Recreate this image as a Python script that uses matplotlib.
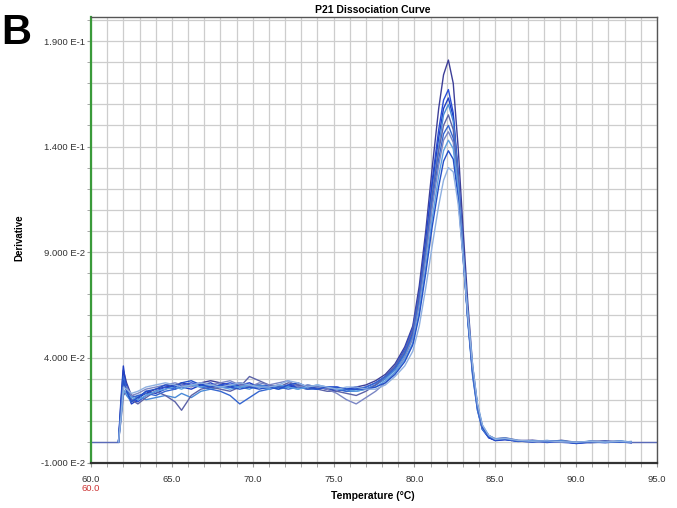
import numpy as np
import matplotlib
matplotlib.use("Agg")
import matplotlib.pyplot as plt

# Temperature grid (°C)
temps = [61.7, 61.85, 62.0, 62.2, 62.5, 62.9, 63.4, 64.0, 64.6, 65.2,
         65.6, 66.2, 66.8, 67.4, 68.0, 68.6, 69.2, 69.8, 70.4, 71.0,
         71.6, 72.2, 72.8, 73.4, 74.0, 74.6, 75.2, 75.8, 76.4, 77.0,
         77.6, 78.2, 78.8, 79.4, 79.9, 80.3, 80.7, 81.1, 81.5, 81.8,
         82.1, 82.4, 82.7, 83.0, 83.3, 83.6, 83.9, 84.2, 84.6, 85.0,
         85.6, 86.4, 87.3, 88.2, 89.1, 90.0, 90.9, 91.8, 92.7, 93.4]

# Derivative values in units of 1e-3
c1 = [0, 18, 34, 28, 22, 21, 23, 25, 26, 27, 28, 27, 28, 29, 28, 27, 28, 27, 27, 26,
      27, 26, 26, 25, 26, 25, 25, 25, 26, 27, 29, 32, 37, 45, 55, 74, 100, 130, 158, 174,
      181, 170, 140, 102, 66, 36, 17, 7, 2, 1, 1.5, 0.5, 0.8, 0.2, 0.6, -0.5, 0.3, 0.0, 0.4, -0.3]
c2 = [0, 14, 30, 27, 20, 19, 22, 24, 26, 25, 27, 28, 27, 26, 27, 28, 27, 26, 26, 27,
      26, 27, 26, 26, 25, 26, 26, 25, 25, 26, 28, 31, 36, 44, 54, 71, 96, 124, 148, 162,
      167, 156, 128, 93, 60, 33, 16, 6, 2, 0.8, 1.2, 0.2, 0.5, -0.3, 0.4, -0.8, 0.0, -0.4, 0.2, -0.2]
c3 = [0, 20, 36, 24, 18, 20, 24, 23, 25, 27, 26, 25, 27, 28, 26, 26, 27, 28, 26, 25,
      26, 26, 27, 26, 26, 25, 24, 25, 26, 25, 27, 30, 35, 42, 52, 70, 94, 121, 144, 158,
      163, 154, 127, 92, 58, 32, 15, 6, 2, 0.6, 1.0, 0.4, 0.0, 0.5, -0.2, -0.6, -0.2, 0.3, 0.0, -0.4]
c4 = [0, 12, 25, 22, 19, 22, 20, 21, 22, 21, 23, 21, 24, 25, 26, 27, 26, 25, 27, 26,
      25, 26, 25, 27, 26, 26, 25, 24, 24, 25, 27, 30, 34, 41, 50, 67, 91, 118, 140, 155,
      160, 152, 126, 91, 57, 31, 15, 6, 2.5, 1.2, 1.6, 0.6, 0.2, 0.7, 0.0, -0.3, 0.4, -0.2, 0.3, 0.0]
c5 = [0, 10, 22, 24, 20, 18, 21, 24, 22, 19, 15, 22, 25, 26, 25, 24, 26, 31, 29, 27,
      26, 28, 27, 26, 25, 24, 24, 23, 22, 24, 27, 31, 36, 43, 53, 70, 92, 117, 138, 150,
      155, 148, 124, 92, 60, 34, 17, 7, 3, 1.5, 2.0, 0.8, 0.5, 0.0, 0.8, -0.2, 0.2, 0.5, -0.2, 0.2]
c6 = [0, 16, 31, 25, 21, 22, 23, 22, 24, 25, 26, 27, 26, 25, 24, 22, 18, 21, 24, 25,
      26, 25, 26, 25, 25, 26, 25, 24, 25, 26, 28, 31, 35, 42, 51, 68, 90, 114, 134, 146,
      150, 144, 121, 89, 58, 33, 16, 7, 2.5, 1.0, 1.4, 0.3, 0.6, 0.1, 0.3, -0.4, -0.1, 0.2, 0.1, -0.1]
c7 = [0, 13, 27, 26, 22, 23, 25, 26, 27, 28, 27, 26, 28, 27, 28, 29, 27, 26, 28, 27,
      28, 29, 26, 27, 26, 25, 23, 20, 18, 21, 24, 28, 33, 40, 49, 65, 87, 111, 131, 143,
      147, 142, 121, 90, 59, 34, 17, 7, 3, 1.2, 1.5, 0.5, 0.2, 0.6, -0.2, 0.1, -0.5, 0.0, 0.3, -0.2]
c8 = [0, 11, 24, 23, 21, 20, 22, 24, 25, 26, 25, 27, 26, 27, 26, 25, 26, 27, 26, 25,
      27, 26, 25, 26, 27, 26, 25, 25, 24, 25, 26, 29, 33, 39, 47, 62, 83, 106, 126, 138,
      143, 139, 120, 91, 61, 36, 18, 8, 3, 1.4, 1.8, 0.6, 0.4, 0.2, 0.5, -0.3, 0.2, -0.1, 0.4, 0.0]
c9 = [0, 15, 29, 24, 19, 21, 24, 25, 27, 26, 28, 29, 27, 26, 27, 26, 25, 26, 25, 26,
      25, 27, 28, 26, 25, 26, 26, 25, 25, 25, 26, 28, 32, 38, 46, 60, 80, 102, 121, 133,
      138, 134, 116, 88, 59, 34, 17, 7, 2.5, 1.0, 1.3, 0.4, 0.0, 0.4, 0.2, -0.5, 0.1, 0.2, -0.1, -0.3]
c10 = [0, 12, 26, 25, 23, 24, 26, 27, 28, 27, 26, 27, 28, 27, 26, 27, 28, 27, 26, 26,
       27, 29, 28, 26, 27, 26, 25, 26, 26, 25, 25, 27, 31, 36, 43, 55, 73, 93, 112, 124,
       130, 128, 113, 88, 60, 36, 18, 8, 3, 1.2, 1.6, 0.7, 0.3, 0.5, 0.1, -0.2, 0.3, 0.0, 0.2, -0.1]

curves = [c1, c2, c3, c4, c5, c6, c7, c8, c9, c10]
colors = ["#3d3f98", "#2a4fd6", "#1f3fc4", "#4a8ad8", "#5c63a8",
          "#3566d0", "#7a86c4", "#5fa0e0", "#2450c8", "#8fb0e0"]

# flat zero segments before and after the measured range
baseline_t = [60.0, 61.7, np.nan, 93.4, 95.0]
baseline_v = [0.0, 0.0, np.nan, 0.0, 0.0]

y_ticks = [0.19, 0.14, 0.09, 0.04, -0.01]
y_ticklabels = ["1.900 E-1", "1.400 E-1", "9.000 E-2", "4.000 E-2", "-1.000 E-2"]
x_ticks = [60, 65, 70, 75, 80, 85, 90, 95]
x_ticklabels = ["60.0", "65.0", "70.0", "75.0", "80.0", "85.0", "90.0", "95.0"]

plt.rcParams['font.family'] = ['Liberation Sans', 'DejaVu Sans']

fig = plt.figure(figsize=(6.77, 5.08), dpi=100)
ax = fig.add_axes([91/677, 1-463/508, (657-91)/677, (463-17)/508])

ax.set_xlim(60, 95)
ax.set_ylim(-0.01, 0.2014)

# grid
ax.set_xticks(np.arange(60, 96, 1), minor=True)
ax.set_yticks(np.arange(-0.01, 0.201, 0.01), minor=True)
ax.grid(which='minor', color='#cdcdcd', lw=0.9)
ax.grid(which='major', color='#cdcdcd', lw=0.9)
ax.set_axisbelow(True)

ax.plot(baseline_t, baseline_v, color='#5a6ab8', lw=1.0, zorder=2)
t = np.array(temps)
for c, col in zip(curves, colors):
    ax.plot(t, np.array(c) / 1000.0, color=col, lw=1.0, zorder=3)

ax.set_xticks(x_ticks)
ax.set_xticklabels(x_ticklabels)
ax.set_yticks(y_ticks)
ax.set_yticklabels(y_ticklabels)
ax.tick_params(which='both', direction='out', length=3, color='#999999',
               labelsize=6.8, labelcolor='#333333')
ax.tick_params(axis='y', which='major', pad=1.5)
ax.tick_params(axis='x', which='major', pad=6)

for s in ['top', 'right']:
    ax.spines[s].set_color('#555555')
    ax.spines[s].set_linewidth(1.0)
ax.spines['left'].set_color('#3a9a3a')
ax.spines['left'].set_linewidth(1.6)
ax.spines['bottom'].set_color('#333333')
ax.spines['bottom'].set_linewidth(1.6)

ax.text(60, -0.0222, "60.0", color='#cc3333', fontsize=6.8, ha='center', va='center')

fig.text(373/677, 1-10/508, "P21 Dissociation Curve", ha='center', va='center',
         fontsize=7.5, fontweight='bold')
fig.text(373/677, 1-496/508, "Temperature (°C)", ha='center', va='center',
         fontsize=7.5, fontweight='bold')
fig.text(19/677, 1-238/508, "Derivative", ha='center', va='center', rotation=90,
         fontsize=7, fontweight='bold')
fig.text(1/677, 1-33/508, "B", ha='left', va='center', fontsize=30, fontweight='bold')

fig.savefig("out.png", dpi=100)
